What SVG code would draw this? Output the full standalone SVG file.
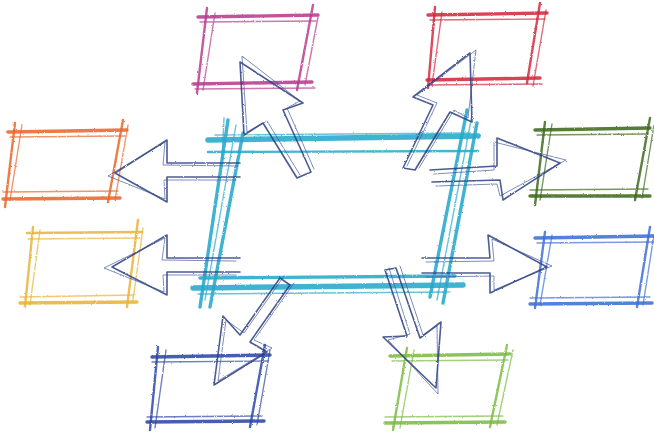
<svg xmlns="http://www.w3.org/2000/svg" width="654" height="435" viewBox="0 0 654 435">
<style>
line,polyline{fill:none;stroke-linecap:round;stroke-linejoin:round}
.w1{stroke-width:1.4;stroke-opacity:.7}
.w2{stroke-width:2.4;stroke-opacity:.85}
.w3{stroke-width:3.4;stroke-opacity:.88}
.w5{stroke-width:5.5;stroke-opacity:.88}
.pink{stroke:#b83c8e}.red{stroke:#d4283c}.orange{stroke:#e8682c}.yellow{stroke:#e8b43a}
.green{stroke:#3f6a1e}.blue{stroke:#3f6fd6}.navybox{stroke:#2d48a6}.lime{stroke:#7cbc42}
.cyan{stroke:#27a9c9}
.arr{stroke:#2c3e7e;stroke-width:1.6;stroke-opacity:.85}
.arr2{stroke:#3a4f96;stroke-width:1;stroke-opacity:.65}
</style>
<defs>
<filter id="rough" x="-5%" y="-5%" width="110%" height="110%">
<feTurbulence type="fractalNoise" baseFrequency="0.9" numOctaves="2" seed="3" result="n"/>
<feDisplacementMap in="SourceGraphic" in2="n" scale="2"/>
</filter>
</defs>
<rect width="654" height="435" fill="#ffffff"/>
<g filter="url(#rough)">
<g id="center" class="cyan">
<line class="w5" x1="208" y1="140" x2="478" y2="136"/>
<line class="w1" x1="215" y1="135" x2="470" y2="133"/>
<line class="w2" x1="208" y1="152" x2="478" y2="151"/>
<line class="w3" x1="200" y1="278" x2="455" y2="276"/>
<line class="w5" x1="193" y1="288" x2="463" y2="285"/>
<line class="w1" x1="198" y1="294" x2="450" y2="292"/>
<line class="w3" x1="228" y1="120" x2="200" y2="307"/>
<line class="w3" x1="243" y1="133" x2="210" y2="307"/>
<line class="w1" x1="236" y1="125" x2="205" y2="300"/>
<line class="w1" x1="224" y1="118" x2="222" y2="160"/>
<line class="w3" x1="467" y1="110" x2="430" y2="297"/>
<line class="w3" x1="477" y1="123" x2="443" y2="303"/>
<line class="w1" x1="472" y1="115" x2="437" y2="300"/>
</g>
<g id="pink-box" class="pink">
<line class="w3" x1="198" y1="17" x2="318" y2="15"/>
<line class="w1" x1="200" y1="22" x2="316" y2="21"/>
<line class="w3" x1="193" y1="84" x2="312" y2="82"/>
<line class="w1" x1="195" y1="89" x2="315" y2="88"/>
<line class="w2" x1="207" y1="8" x2="197" y2="93"/>
<line class="w1" x1="215" y1="13" x2="203" y2="90"/>
<line class="w2" x1="313" y1="5" x2="297" y2="90"/>
<line class="w1" x1="318" y1="17" x2="305" y2="85"/>
</g>
<g id="red-box" class="red">
<line class="w3" x1="428" y1="15" x2="547" y2="13"/>
<line class="w1" x1="430" y1="20" x2="545" y2="19"/>
<line class="w3" x1="427" y1="80" x2="540" y2="78"/>
<line class="w1" x1="428" y1="85" x2="542" y2="84"/>
<line class="w2" x1="435" y1="7" x2="428" y2="88"/>
<line class="w1" x1="442" y1="12" x2="432" y2="85"/>
<line class="w2" x1="540" y1="3" x2="527" y2="83"/>
<line class="w1" x1="546" y1="10" x2="533" y2="86"/>
</g>
<g id="orange-box" class="orange">
<line class="w3" x1="8" y1="132" x2="127" y2="130"/>
<line class="w1" x1="10" y1="137" x2="125" y2="136"/>
<line class="w1" x1="3" y1="192" x2="118" y2="191"/>
<line class="w3" x1="3" y1="199" x2="120" y2="198"/>
<line class="w2" x1="15" y1="123" x2="5" y2="207"/>
<line class="w1" x1="22" y1="125" x2="10" y2="200"/>
<line class="w2" x1="123" y1="120" x2="108" y2="202"/>
<line class="w1" x1="128" y1="125" x2="115" y2="200"/>
</g>
<g id="yellow-box" class="yellow">
<line class="w2" x1="27" y1="233" x2="142" y2="232"/>
<line class="w1" x1="28" y1="239" x2="140" y2="238"/>
<line class="w1" x1="20" y1="297" x2="135" y2="295"/>
<line class="w3" x1="20" y1="303" x2="137" y2="302"/>
<line class="w2" x1="33" y1="227" x2="25" y2="307"/>
<line class="w1" x1="40" y1="230" x2="30" y2="305"/>
<line class="w2" x1="138" y1="220" x2="127" y2="307"/>
<line class="w1" x1="143" y1="228" x2="133" y2="300"/>
</g>
<g id="green-box" class="green">
<line class="w3" x1="535" y1="130" x2="650" y2="128"/>
<line class="w1" x1="537" y1="135" x2="648" y2="134"/>
<line class="w1" x1="530" y1="190" x2="648" y2="189"/>
<line class="w3" x1="530" y1="196" x2="650" y2="196"/>
<line class="w2" x1="545" y1="122" x2="535" y2="205"/>
<line class="w1" x1="552" y1="124" x2="540" y2="200"/>
<line class="w2" x1="650" y1="118" x2="635" y2="200"/>
<line class="w1" x1="654" y1="125" x2="642" y2="198"/>
</g>
<g id="blue-box" class="blue">
<line class="w3" x1="535" y1="238" x2="654" y2="236"/>
<line class="w1" x1="537" y1="243" x2="654" y2="242"/>
<line class="w1" x1="530" y1="298" x2="650" y2="297"/>
<line class="w3" x1="530" y1="304" x2="652" y2="303"/>
<line class="w2" x1="545" y1="232" x2="535" y2="308"/>
<line class="w1" x1="552" y1="235" x2="540" y2="305"/>
<line class="w2" x1="650" y1="227" x2="637" y2="307"/>
<line class="w1" x1="654" y1="235" x2="643" y2="305"/>
</g>
<g id="navy-box" class="navybox">
<line class="w3" x1="152" y1="357" x2="270" y2="355"/>
<line class="w1" x1="152" y1="362" x2="268" y2="361"/>
<line class="w1" x1="147" y1="417" x2="262" y2="416"/>
<line class="w3" x1="147" y1="422" x2="264" y2="421"/>
<line class="w2" x1="158" y1="347" x2="150" y2="430"/>
<line class="w1" x1="166" y1="350" x2="155" y2="428"/>
<line class="w2" x1="265" y1="345" x2="250" y2="427"/>
<line class="w1" x1="270" y1="350" x2="257" y2="425"/>
</g>
<g id="lime-box" class="lime">
<line class="w3" x1="390" y1="356" x2="510" y2="354"/>
<line class="w1" x1="392" y1="361" x2="508" y2="360"/>
<line class="w1" x1="385" y1="417" x2="503" y2="416"/>
<line class="w3" x1="385" y1="423" x2="505" y2="422"/>
<line class="w2" x1="407" y1="348" x2="393" y2="430"/>
<line class="w1" x1="414" y1="350" x2="400" y2="428"/>
<line class="w2" x1="507" y1="345" x2="490" y2="427"/>
<line class="w1" x1="513" y1="350" x2="497" y2="425"/>
</g>
<g id="connectors">
<polyline class="arr" points="240,163 167,163 167,140 115,173 167,202 167,177 240,177"/>
<polyline class="arr2" points="238,166 163,165 165,142 108,176 165,199 164,180 236,180"/>
<polyline class="arr" points="240,258 167,258 167,235 112,267 167,295 167,272 240,272"/>
<polyline class="arr2" points="236,261 162,260 165,238 104,268 164,292 163,275 236,275"/>
<polyline class="arr" points="430,170 497,166 497,138 560,163 503,200 500,180 432,182"/>
<polyline class="arr2" points="434,174 494,170 494,142 566,160 500,196 497,184 436,186"/>
<polyline class="arr" points="422,258 490,258 488,235 547,267 490,293 490,273 422,273"/>
<polyline class="arr2" points="426,262 494,261 492,239 552,266 494,290 494,276 426,277"/>
<polyline class="arr" points="297,178 263,123 244,135 240,62 303,103 283,110 311,172 297,178"/>
<polyline class="arr2" points="300,175 267,121 247,132 242,56 300,101 287,108 314,169"/>
<polyline class="arr" points="403,168 433,105 413,97 470,53 472,122 450,112 415,170 403,168"/>
<polyline class="arr2" points="407,166 437,103 417,95 476,50 468,118 454,110 419,168"/>
<polyline class="arr" points="280,278 240,335 223,316 214,385 267,352 250,342 290,285 280,278"/>
<polyline class="arr2" points="284,276 244,333 226,320 218,381 272,348 254,340 294,283"/>
<polyline class="arr" points="385,270 407,336 383,337 436,388 441,322 420,338 396,268 385,270"/>
<polyline class="arr2" points="389,268 410,334 388,340 438,394 437,326 423,335 400,266"/>
</g>
</g>
</svg>
